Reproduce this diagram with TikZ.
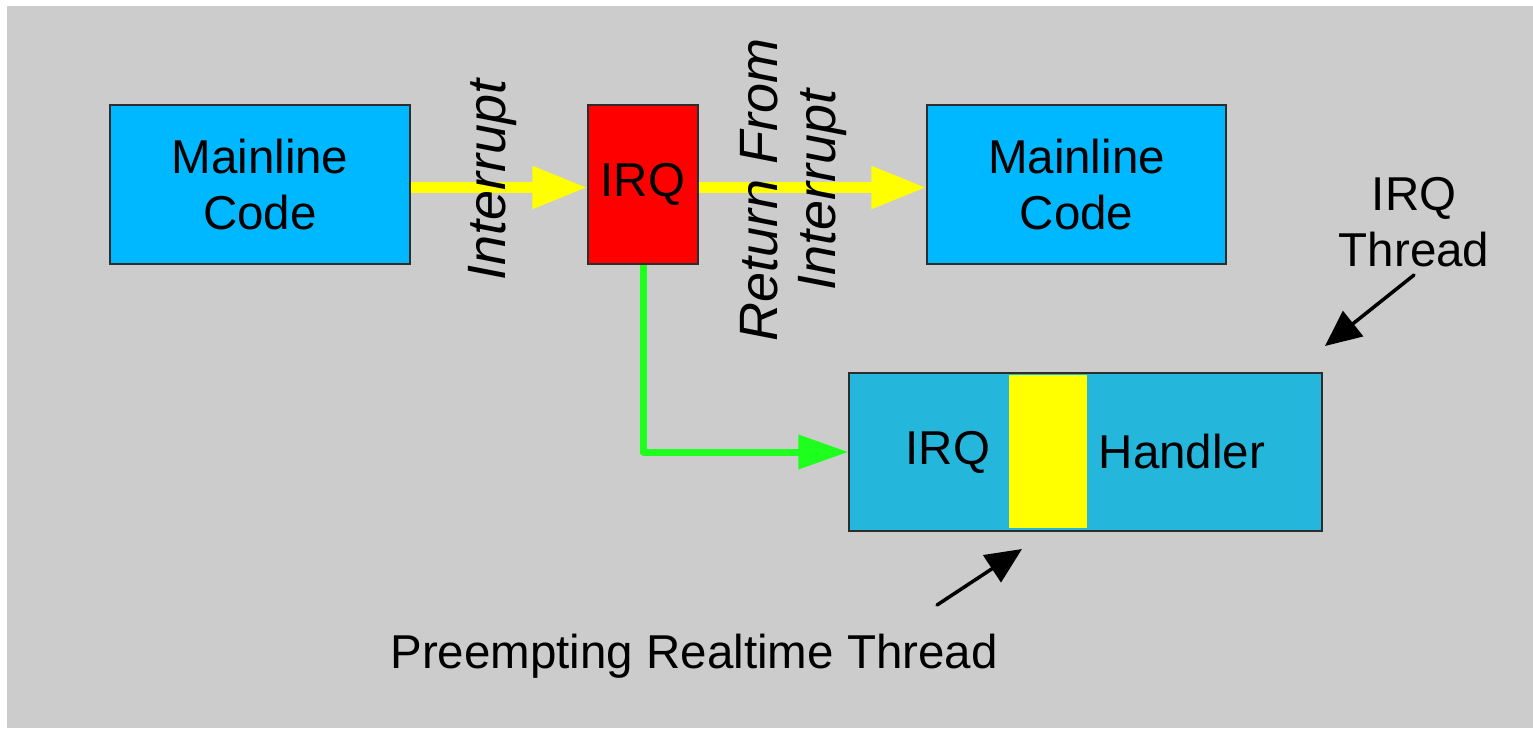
\documentclass[tikz,border=0pt]{standalone}
\usepackage{fontspec}
\setmainfont{Liberation Sans}
\usetikzlibrary{arrows.meta}

\definecolor{bgray}{RGB}{204,204,204}
\definecolor{codeblue}{RGB}{0,184,255}
\definecolor{handlerblue}{RGB}{37,182,220}
\definecolor{irqred}{RGB}{255,0,0}
\definecolor{flowyellow}{RGB}{255,255,0}
\definecolor{flowgreen}{RGB}{30,255,30}
\definecolor{edgegray}{RGB}{45,45,45}

\begin{document}
\begin{tikzpicture}[x=1pt,y=-1pt,
  big/.style={font=\fontsize{47.5}{56}\selectfont},
  box/.style={draw=edgegray, line width=1.2pt, inner sep=0pt, big, align=center},
  lbl/.style={inner sep=0pt, align=center, font=\fontsize{54}{58}\selectfont\itshape},
  txt/.style={inner sep=0pt, align=center, big},
  yarrow/.style={draw=flowyellow, line width=11pt,
    -{Triangle[length=55pt,width=40pt]}, color=flowyellow},
  garrow/.style={draw=flowgreen, line width=7pt, line join=round,
    -{Triangle[length=50pt,width=33pt]}, color=flowgreen},
  karrow/.style={draw=black, line width=3.5pt, line cap=round,
    -{Triangle[length=36pt,width=32pt]}},
]
\useasboundingbox (0,0) rectangle (1533,728);
\fill[bgray] (7,6) rectangle (1533,728);

% top row: code blocks and the interrupt entry
\node[box, fill=codeblue, minimum width=300pt, minimum height=159pt] (main1) at (260,184.5) {Mainline\\Code};
\node[box, fill=irqred, minimum width=110pt, minimum height=159pt] (irq) at (643,184.5) {IRQ};
\node[box, fill=codeblue, minimum width=299pt, minimum height=159pt] (main2) at (1076.5,184.5) {Mainline\\Code};

% threaded handler with the preempting slice
\node[box, fill=handlerblue, minimum width=473pt, minimum height=158pt] (handler) at (1085.5,452) {};
\node[fill=flowyellow, inner sep=0pt, minimum width=78pt, minimum height=153pt] (slice) at (1048,451.5) {};
\node[txt] (hirq) at (948,452) {IRQ};
\node[txt] (hname) at (1182,452) {Handler};

% flow arrows, running a little below the block centres
\draw[yarrow] ([yshift=-3pt]main1.east) -- ([yshift=-3pt]irq.west);
\draw[yarrow] ([yshift=-3pt]irq.east) -- ([yshift=-3pt]main2.west);
\draw[garrow] (irq.south) |- (handler.west);

% rotated transition labels
\node[lbl, rotate=90] (intlbl) at (493,180) {Interrupt};
\node[lbl, rotate=90] (retlbl) at (794,190) {Return From\\Interrupt};

% annotations
\node[txt] (thrlbl) at (1414,222) {IRQ\\Thread};
\coordinate (thrA) at (1414,275);
\coordinate (thrB) at (1325,346);
\draw[karrow] (thrA) -- (thrB);

\node[txt, anchor=base] (prelbl) at (694,668) {Preempting Realtime Thread};
\coordinate (preA) at (937,605);
\coordinate (preB) at (1022,549);
\draw[karrow] (preA) -- (preB);
\end{tikzpicture}
\end{document}
